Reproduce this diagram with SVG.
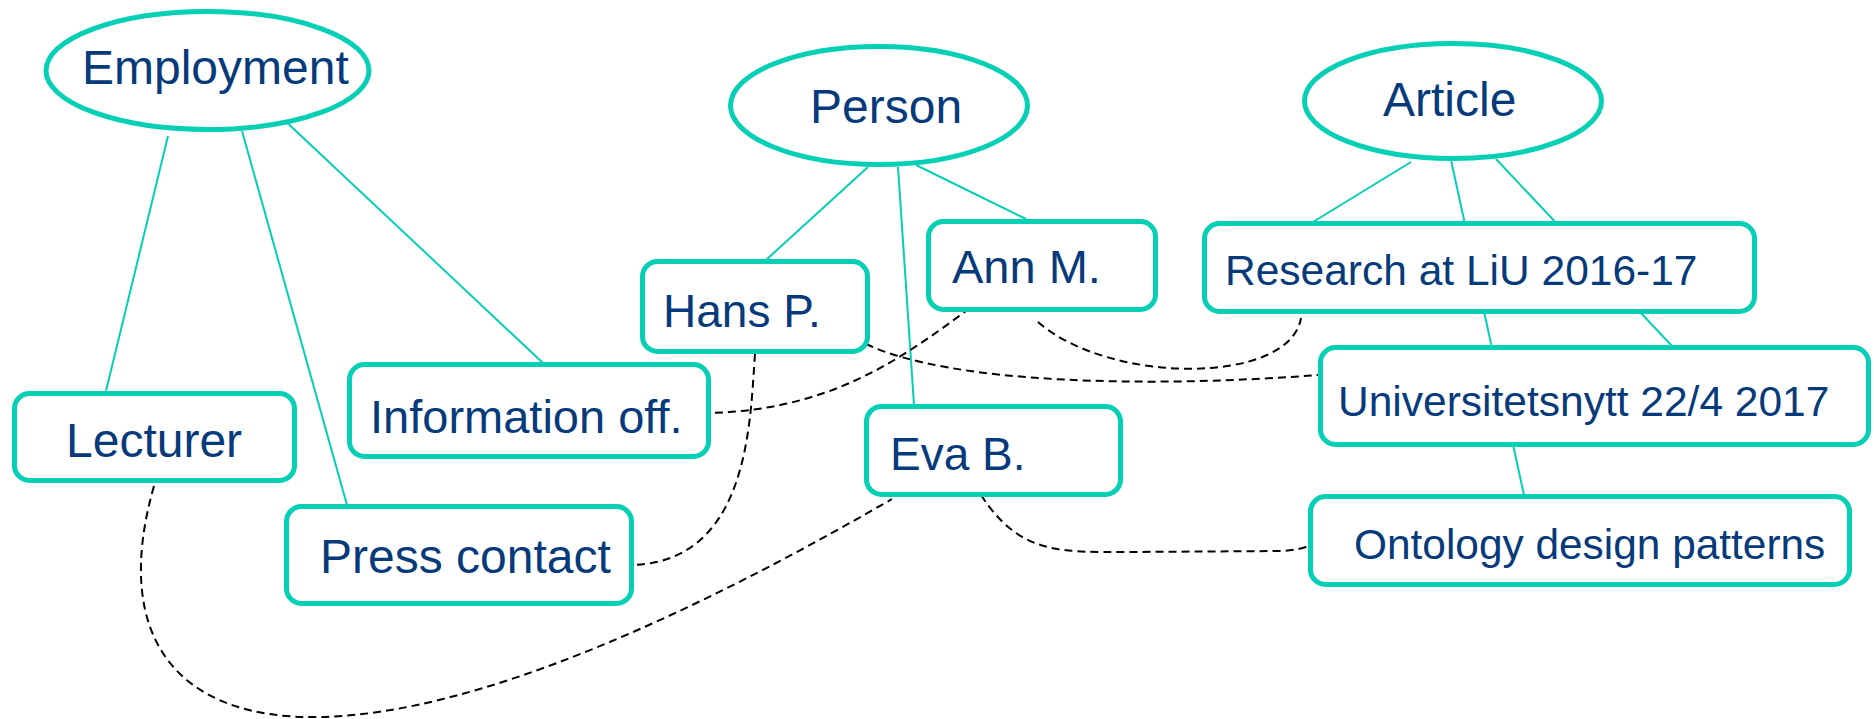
<svg xmlns="http://www.w3.org/2000/svg" width="1874" height="719" viewBox="0 0 1874 719">
<style>
.bg{fill:#ffffff}
.node{fill:#ffffff;stroke:#05cfb5;stroke-width:5}
.lbl{font-family:"Liberation Sans",Arial,sans-serif;fill:#063a7a}
.link{fill:none;stroke:#05cfb5;stroke-width:2}
.dash{fill:none;stroke:#000000;stroke-width:2;stroke-dasharray:8 5}
</style>
<rect class="bg" x="0" y="0" width="1874" height="719"/>
<g id="connectors">
<line class="link" x1="168" y1="136" x2="106" y2="391"/>
<line class="link" x1="242" y1="131" x2="347" y2="505"/>
<line class="link" x1="281" y1="117" x2="543" y2="363"/>
<line class="link" x1="868" y1="167" x2="766" y2="260"/>
<line class="link" x1="898" y1="167" x2="914" y2="405"/>
<line class="link" x1="916" y1="165" x2="1026" y2="219"/>
<line class="link" x1="1411" y1="162" x2="1313" y2="222"/>
<line class="link" x1="1451" y1="160" x2="1524" y2="495"/>
<line class="link" x1="1496" y1="159" x2="1672" y2="346"/>
<path class="dash" d="M866,344 C950,384 1150,388 1318,375"/>
<path class="dash" d="M970,308 C900,360 830,410 709,413"/>
<path class="dash" d="M755,354 C750,420 750,560 634,565"/>
<path class="dash" d="M154,486 C110,640 180,720 320,717 C480,714 700,610 892,499"/>
<path class="dash" d="M1038,322 C1110,385 1290,385 1301,318"/>
<path class="dash" d="M981,495 C1020,555 1060,552 1130,552 L1280,551 Q1300,550 1308,546"/>
</g>
<g id="employment">
<ellipse class="node" cx="207.5" cy="70.5" rx="161.5" ry="59"/>
<text class="lbl" x="82" y="84" font-size="48">Employment</text>
</g>
<g id="person">
<ellipse class="node" cx="879" cy="105.5" rx="148.5" ry="59"/>
<text class="lbl" x="810" y="123" font-size="48">Person</text>
</g>
<g id="article">
<ellipse class="node" cx="1453" cy="101" rx="148.5" ry="57.5"/>
<text class="lbl" x="1383" y="116" font-size="48">Article</text>
</g>
<g id="hans">
<rect class="node" x="642.5" y="261.5" width="225" height="90" rx="15"/>
<text class="lbl" x="663" y="327" font-size="46">Hans P.</text>
</g>
<g id="ann">
<rect class="node" x="928.5" y="221.5" width="227" height="88" rx="15"/>
<text class="lbl" x="952" y="283" font-size="47">Ann M.</text>
</g>
<g id="research">
<rect class="node" x="1204.5" y="223.5" width="550" height="88" rx="15"/>
<text class="lbl" x="1225" y="285" font-size="42.5">Research at LiU 2016-17</text>
</g>
<g id="universitetsnytt">
<rect class="node" x="1320.5" y="347.5" width="548" height="97" rx="15"/>
<text class="lbl" x="1338" y="416" font-size="42.5">Universitetsnytt 22/4 2017</text>
</g>
<g id="ontology">
<rect class="node" x="1310.5" y="496.5" width="539" height="88" rx="15"/>
<text class="lbl" x="1354" y="559" font-size="42.4">Ontology design patterns</text>
</g>
<g id="lecturer">
<rect class="node" x="14.5" y="393.5" width="280" height="87" rx="15"/>
<text class="lbl" x="66" y="457" font-size="48">Lecturer</text>
</g>
<g id="information">
<rect class="node" x="349.5" y="364.5" width="359" height="92" rx="15"/>
<text class="lbl" x="370" y="433" font-size="47">Information off.</text>
</g>
<g id="press">
<rect class="node" x="286.5" y="506.5" width="345" height="97" rx="15"/>
<text class="lbl" x="320" y="573" font-size="48">Press contact</text>
</g>
<g id="eva">
<rect class="node" x="866.5" y="406.5" width="254" height="88" rx="15"/>
<text class="lbl" x="890" y="470" font-size="46">Eva B.</text>
</g>
</svg>
